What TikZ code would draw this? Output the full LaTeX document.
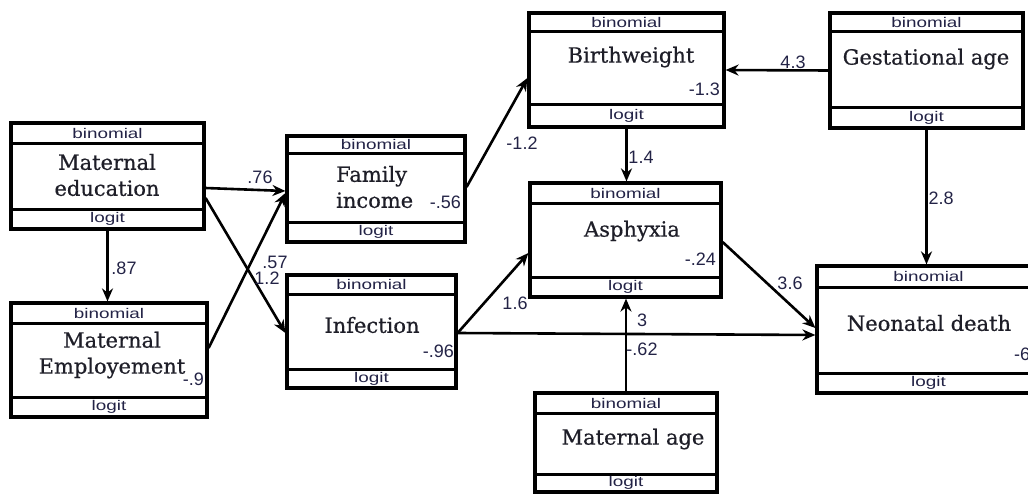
\documentclass[tikz,border=0pt]{standalone}
\usepackage{fontspec}
\setmainfont{DejaVu Serif}[FakeBold=0.6]
\newfontfamily\lblfont{Liberation Sans}
\usetikzlibrary{arrows.meta,calc}
\definecolor{lblcol}{RGB}{35,35,70}
\definecolor{titcol}{RGB}{30,30,40}
\newcommand\modelbox[7]{%
  \node[mbox, minimum width={#4-#2}, minimum height={#5-#3}] (#1) at ({(#2+#4)/2},{(#3+#5)/2}) {};
  \draw[mline] (#2,#6) -- (#4,#6);
  \draw[mline] (#2,#7) -- (#4,#7);
  \node[small] (#1-b) at ({(#2+#4)/2},{(#3+#6)/2}) {\scalebox{1.35}[1]{binomial}};
  \node[small] (#1-l) at ({(#2+#4)/2},{(#7+#5)/2}) {\scalebox{1.35}[1]{logit}};
}
\begin{document}
\begin{tikzpicture}[x=1pt,y=-1pt,
  mbox/.style={draw, line width=3.2pt, inner sep=0pt, rectangle},
  mline/.style={line width=3pt},
  small/.style={font=\lblfont\fontsize{14}{14}\selectfont, inner sep=0pt, text=lblcol},
  title/.style={font=\fontsize{21}{26}\selectfont, align=center, inner sep=0pt, text=titcol},
  lbl/.style={font=\lblfont\fontsize{18}{18}\selectfont, inner sep=0pt, text=lblcol},
  arr/.style={line width=2.6pt, -{Stealth[length=13pt,width=11pt]}},
]
\useasboundingbox (0,0) rectangle (1028,495);
\clip (0,0) rectangle (1028,495);

% boxes
\modelbox{medu}{11}{123}{204}{229}{143}{209}
\modelbox{memp}{11}{303}{207}{417}{323}{397}
\modelbox{finc}{287}{136}{465}{242}{153}{222}
\modelbox{inf}{287}{275}{456}{388}{294}{369}
\modelbox{bw}{529}{13}{724}{127}{32}{104}
\modelbox{asph}{530}{183}{721}{297}{203}{277}
\modelbox{gest}{830}{13}{1023}{128}{32}{107}
\modelbox{neo}{817}{266}{1040}{393}{287}{373}
\modelbox{mage}{535}{393}{717}{492}{413}{474}

% titles
\node[title] (medu-t) at (107,175) {Maternal\\education};
\node[title] (memp-t) at (112,355) {Maternal\\Employement};
\node[title, align=left, anchor=west] (finc-t) at (336,187) {Family\\income};
\node[title] (inf-t) at (372,325) {Infection};
\node[title] (bw-t) at (631,57) {Birthweight};
\node[title] (asph-t) at (632,231) {Asphyxia};
\node[title] (gest-t) at (926,59) {Gestational age};
\node[title] (neo-t) at (929,323) {Neonatal death};
\node[title] (mage-t) at (633,439) {Maternal age};

% values inside boxes
\node[lbl, anchor=east] (memp-v) at (204,379) {-.9};
\node[lbl, anchor=east] (finc-v) at (461,202) {-.56};
\node[lbl, anchor=east] (inf-v) at (454,351) {-.96};
\node[lbl, anchor=east] (bw-v) at (720,89) {-1.3};
\node[lbl, anchor=east] (asph-v) at (716,259) {-.24};
\node[lbl, anchor=west] (neo-v) at (1014,354) {-6};

% connectors
\draw[arr] ([yshift=-12pt]medu.east) -- ([yshift=-2pt]finc.west);
\draw[arr] ([yshift=-22pt]medu.east) -- ([yshift=-1.5pt]inf.west);
\draw[arr] ([yshift=12pt]memp.east) -- ([yshift=-4pt]finc.west);
\draw[arr] (medu.south) -- (medu.south |- memp.north);
\draw[arr] ([yshift=2pt]finc.east) -- ([yshift=-8pt]bw.west);
\draw[arr] ([yshift=-1.5pt]inf.east) -- ([yshift=-13pt]asph.west);
\draw[arr] ([yshift=-1.5pt]inf.east) -- ([yshift=-5.5pt]neo.west);
\draw[arr] ([yshift=-2pt]asph.east) -- ([yshift=1.5pt]neo.west);
\draw[arr] (bw.south) -- (bw.south |- asph.north);
\draw[arr] (gest.west) -- (bw.east);
\draw[arr] (gest.south) -- (gest.south |- neo.north);
\draw[arr] (mage.north) -- (mage.north |- asph.south);

% connector labels
\node[lbl] (l76) at (260,177) {.76};
\node[lbl] (l57) at (275,262) {.57};
\node[lbl] (l12a) at (267,278) {1.2};
\node[lbl] (l87) at (124,268) {.87};
\node[lbl] (l12b) at (522,143) {-1.2};
\node[lbl] (l16) at (515,303) {1.6};
\node[lbl] (l14) at (641,157) {1.4};
\node[lbl] (l43) at (793,62) {4.3};
\node[lbl] (l28) at (941,198) {2.8};
\node[lbl] (l36) at (790,283) {3.6};
\node[lbl] (l3) at (642,320) {3};
\node[lbl] (l62) at (642,349) {-.62};
\end{tikzpicture}
\end{document}
